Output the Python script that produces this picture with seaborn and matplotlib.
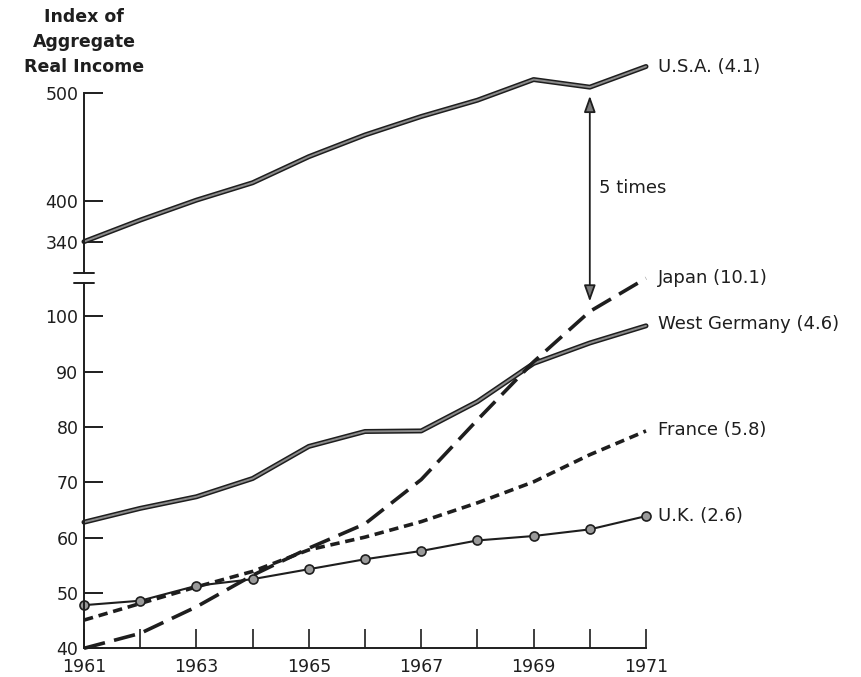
import numpy as np
import pandas as pd
import matplotlib
matplotlib.use("Agg")
import matplotlib.pyplot as plt
import matplotlib.transforms as mtransforms
import matplotlib.patheffects as pe
import seaborn as sns

# ---------------- data ----------------
years = list(range(1961, 1972))
usa = [340, 372, 401, 417, 441, 461, 478, 493, 512, 505, 524]
japan = [40.0, 42.7, 47.5, 53.2, 58.1, 62.5, 70.5, 81.3, 91.8, 100.9, 106.9]
west_germany = [62.8, 65.3, 67.4, 70.7, 76.5, 79.2, 79.3, 84.6, 91.5, 95.2, 98.3]
france = [45.1, 48.1, 51.1, 53.9, 57.8, 60.1, 62.9, 66.3, 70.1, 75.0, 79.3]
uk = [47.8, 48.6, 51.3, 52.5, 54.3, 56.1, 57.6, 59.5, 60.3, 61.5, 63.9]

series_labels = ["U.S.A. (4.1)", "Japan (10.1)", "West Germany (4.6)",
                 "France (5.8)", "U.K. (2.6)"]
top_ticks = [340, 400, 500]
bottom_ticks = [40, 50, 60, 70, 80, 90, 100]
year_labels = [str(y) if y % 2 == 1 else "" for y in years]
y_title = "Index of\nAggregate\nReal Income"
gap_label = "5 times"

df = pd.DataFrame({"year": years, "usa": usa, "japan": japan,
                   "west_germany": west_germany, "france": france, "uk": uk})

# ---------------- style ----------------
sns.set_style("white")
plt.rcParams["font.family"] = ["DejaVu Sans"]
INK = "#1e1e1e"

W, H = 862, 677
fig = plt.figure(figsize=(W / 100, H / 100), dpi=100)

x0, x1 = 84, 646
ax_top = fig.add_axes([x0 / W, 1 - 273.3 / H, (x1 - x0) / W, (273.3 - 60) / H])
ax_bot = fig.add_axes([x0 / W, 1 - 648.3 / H, (x1 - x0) / W, (648.3 - 273.3) / H])
for a in (ax_top, ax_bot):
    a.patch.set_alpha(0)


def fwd(v):
    v = np.asarray(v, dtype=float)
    return np.where(v >= 400, v, 400 - (400 - v) * 0.62)


def inv(u):
    u = np.asarray(u, dtype=float)
    return np.where(u >= 400, u, 400 - (400 - u) / 0.62)


ax_top.set_yscale("function", functions=(fwd, inv))

hollow = [pe.Stroke(linewidth=3.6, foreground=INK), pe.Normal()]

# U.S.A.
sns.lineplot(data=df, x="year", y="usa", ax=ax_top, color="#8a8a8a",
             linewidth=1.4, path_effects=hollow, errorbar=None)
# West Germany
sns.lineplot(data=df, x="year", y="west_germany", ax=ax_bot, color="#8a8a8a",
             linewidth=1.4, path_effects=hollow, errorbar=None)
# Japan
sns.lineplot(data=df, x="year", y="japan", ax=ax_bot, color=INK,
             linewidth=2.6, linestyle=(0, (6.0, 2.6)), errorbar=None)
# France
sns.lineplot(data=df, x="year", y="france", ax=ax_bot, color=INK,
             linewidth=2.6, linestyle=(0, (2.6, 1.6)), errorbar=None)
# U.K.
sns.lineplot(data=df, x="year", y="uk", ax=ax_bot, color=INK,
             linewidth=1.5, marker="o", markersize=6.5,
             markerfacecolor="#9a9a9a", markeredgecolor=INK,
             markeredgewidth=1.2, errorbar=None)

for line in ax_top.lines + ax_bot.lines:
    line.set_clip_on(False)

# ---------------- axes ----------------
ax_top.set_xlim(1961, 1971)
ax_bot.set_xlim(1961, 1971)
ax_top.set_ylim(293, 530)
ax_bot.set_ylim(40, 107.8)

for a in (ax_top, ax_bot):
    a.set_xlabel("")
    a.set_ylabel("")
    for s in ("top", "right"):
        a.spines[s].set_visible(False)
    a.spines["left"].set_color(INK)
    a.spines["left"].set_linewidth(1.4)

ax_top.spines["bottom"].set_visible(False)
ax_top.spines["left"].set_bounds(293, 500)
ax_bot.spines["left"].set_bounds(40, 106)
ax_bot.spines["bottom"].set_color(INK)
ax_bot.spines["bottom"].set_linewidth(1.4)
ax_bot.spines["bottom"].set_bounds(1961, 1971)

ax_top.set_xticks([])
ax_top.set_yticks(top_ticks)
ax_top.set_yticklabels([str(t) for t in top_ticks])
ax_top.yaxis.get_major_ticks()[0].tick1line.set_visible(False)
ax_top.tick_params(axis="y", left=True, direction="in", length=14, width=1.4,
                   color=INK, pad=4, labelsize=12.5, labelcolor=INK)

ax_bot.set_yticks(bottom_ticks)
ax_bot.set_yticklabels([str(t) for t in bottom_ticks])
ax_bot.tick_params(axis="y", left=True, direction="in", length=14, width=1.4,
                   color=INK, pad=4, labelsize=12.5, labelcolor=INK)
ax_bot.set_xticks(years)
ax_bot.set_xticklabels(year_labels)
ax_bot.tick_params(axis="x", bottom=True, direction="in", length=14, width=1.2,
                   color=INK, pad=7, labelsize=12.5, labelcolor=INK)

# break marks
ax_top.plot([-0.017, 0.017], [0, 0], transform=ax_top.transAxes,
            color=INK, lw=1.4, clip_on=False)
trans_b = mtransforms.blended_transform_factory(ax_bot.transAxes, ax_bot.transData)
ax_bot.plot([-0.017, 0.017], [106, 106], transform=trans_b,
            color=INK, lw=1.4, clip_on=False)

# ---------------- annotations ----------------
lab_x = 1971.22
ax_top.text(lab_x, usa[-1], series_labels[0], ha="left", va="center",
            fontsize=13, color=INK, clip_on=False)
ax_bot.text(lab_x, japan[-1], series_labels[1], ha="left", va="center",
            fontsize=13, color=INK, clip_on=False)
ax_bot.text(lab_x, west_germany[-1] + 0.3, series_labels[2], ha="left", va="center",
            fontsize=13, color=INK, clip_on=False)
ax_bot.text(lab_x, france[-1] + 0.2, series_labels[3], ha="left", va="center",
            fontsize=13, color=INK, clip_on=False)
ax_bot.text(lab_x, uk[-1], series_labels[4], ha="left", va="center",
            fontsize=13, color=INK, clip_on=False)

ax_bot.annotate("", xy=(1970, 102.7), xycoords=ax_bot.transData,
                xytext=(1970, 497), textcoords=ax_top.transData,
                arrowprops=dict(arrowstyle="<|-|>,head_length=0.7,head_width=0.25",
                                mutation_scale=14, lw=1.3, edgecolor=INK,
                                facecolor="#7a7a7a", shrinkA=0, shrinkB=0),
                annotation_clip=False)
ax_top.text(1970.17, 412, gap_label, ha="left", va="center", fontsize=13,
            color=INK)

fig.text(84 / W, 1 - 8 / H, y_title, ha="center", va="top", fontsize=12.5,
         fontweight="bold", color=INK, linespacing=1.5)

fig.savefig("out.png", dpi=100)
